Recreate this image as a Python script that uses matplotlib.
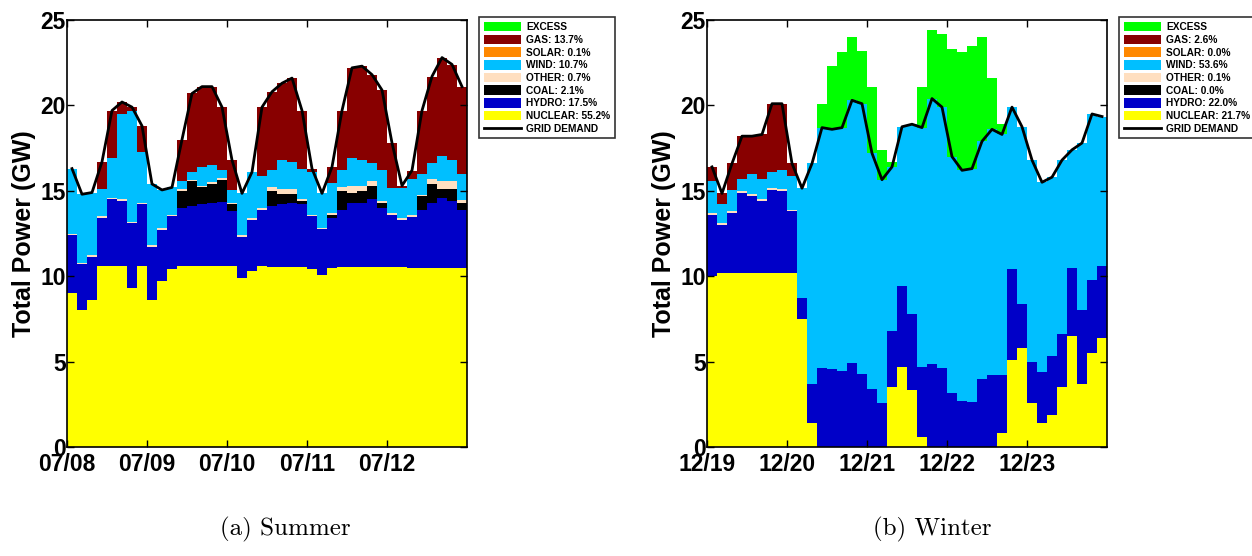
import numpy as np
import matplotlib
matplotlib.use('Agg')
import matplotlib.pyplot as plt
from matplotlib.patches import Patch
from matplotlib.lines import Line2D

plt.rcParams['font.family'] = ['Liberation Sans', 'DejaVu Sans']

# 3-hour bins, 5 days per panel (GW)
hours = np.arange(40) * 3

# Summer 07/08 - 07/12
s_nuclear = [9.0, 8.0, 8.6, 10.6, 10.6, 10.6, 9.3, 10.6, 8.6, 9.7,
             10.4, 10.6, 10.6, 10.6, 10.6, 10.6, 10.6, 9.9, 10.3, 10.6,
             10.55, 10.55, 10.55, 10.55, 10.4, 10.1, 10.5, 10.55, 10.55, 10.55,
             10.55, 10.55, 10.55, 10.55, 10.48, 10.48, 10.48, 10.48, 10.48, 10.48]
s_hydro = [3.4, 2.7, 2.55, 2.8, 3.9, 3.8, 3.8, 3.6, 3.1, 3.0,
           3.1, 3.4, 3.5, 3.6, 3.7, 3.75, 3.2, 2.4, 3.0, 3.3,
           3.55, 3.65, 3.75, 3.65, 3.1, 2.65, 2.9, 3.35, 3.75, 3.75,
           3.95, 3.45, 3.05, 2.75, 3.0, 3.4, 3.8, 4.1, 3.9, 3.4]
s_coal = [0, 0, 0, 0, 0, 0, 0, 0, 0, 0,
          0, 1.0, 1.45, 1.0, 1.1, 1.3, 0.4, 0, 0, 0,
          0.9, 0.6, 0.5, 0.2, 0, 0, 0.2, 1.1, 0.6, 0.7,
          0.8, 0.3, 0, 0, 0, 0.8, 1.1, 0.5, 0.7, 0.4]
s_other = [0.1, 0.1, 0.1, 0.1, 0.1, 0.1, 0.1, 0.1, 0.1, 0.1,
           0.1, 0.1, 0.1, 0.1, 0.1, 0.1, 0.1, 0.1, 0.1, 0.1,
           0.2, 0.3, 0.3, 0.1, 0.1, 0.1, 0.1, 0.2, 0.4, 0.3,
           0.3, 0.1, 0.1, 0.1, 0.1, 0.1, 0.3, 0.5, 0.5, 0.2]
s_wind = [3.8, 4.0, 3.65, 1.6, 2.3, 5.0, 6.5, 3.0, 3.6, 2.25,
          1.6, 0.5, 0.45, 1.1, 1.0, 0.45, 0.75, 2.45, 2.7, 1.85,
          1.0, 1.7, 1.6, 1.8, 2.5, 2.0, 1.75, 1.0, 1.65, 1.5,
          1.0, 1.8, 1.45, 1.75, 2.1, 1.2, 0.95, 1.45, 1.2, 1.5]
s_solar = [0] * 40
s_gas = [0, 0, 0, 1.6, 2.8, 0.7, 0.2, 1.5, 0, 0,
         0, 2.4, 4.6, 4.7, 4.6, 3.7, 1.75, 0, 0, 4.05,
         4.6, 4.5, 4.9, 3.4, 0.2, 0, 0.95, 3.5, 5.25, 5.5,
         5.2, 4.7, 2.65, 0.15, 0.5, 3.7, 5.05, 5.75, 5.6, 5.1]
s_excess = [0] * 40
s_demand = [16.3, 14.8, 14.9, 16.7, 19.7, 20.2, 19.9, 18.8, 15.4, 15.05,
            15.2, 18.0, 20.7, 21.1, 21.1, 19.9, 16.8, 14.85, 16.1, 19.9,
            20.8, 21.3, 21.6, 19.7, 16.3, 14.85, 16.4, 19.7, 22.2, 22.3,
            21.8, 20.9, 17.8, 15.3, 16.2, 19.7, 21.7, 22.8, 22.4, 21.1]

# Winter 12/19 - 12/23
w_nuclear = [10.0, 10.2, 10.2, 10.2, 10.2, 10.2, 10.2, 10.2, 10.2, 7.5,
             1.4, 0, 0, 0, 0, 0, 0, 0, 3.5, 4.7,
             3.35, 0.6, 0, 0, 0, 0, 0, 0, 0, 0.8,
             5.1, 5.8, 2.6, 1.4, 1.9, 3.5, 6.5, 3.7, 5.5, 6.4]
w_hydro = [3.6, 2.8, 3.5, 4.7, 4.5, 4.2, 4.85, 4.8, 3.6, 1.2,
           2.3, 4.6, 4.55, 4.45, 4.9, 4.3, 3.4, 2.6, 3.3, 4.7,
           4.45, 4.1, 4.85, 4.6, 3.15, 2.7, 2.65, 4.0, 4.2, 3.4,
           5.3, 2.6, 2.4, 3.0, 3.4, 3.1, 4.0, 4.3, 4.25, 4.2]
w_coal = [0] * 40
w_other = [0.1, 0.1, 0.1, 0.1, 0.1, 0.1, 0.1, 0.1, 0.1, 0,
           0, 0, 0, 0, 0, 0, 0, 0, 0, 0,
           0, 0, 0, 0, 0, 0, 0, 0, 0, 0,
           0, 0, 0, 0, 0, 0, 0, 0, 0, 0]
w_wind = [1.9, 1.1, 1.25, 0.7, 1.2, 1.2, 0.95, 1.1, 1.95, 6.45,
          12.9, 14.1, 14.05, 14.25, 15.4, 15.8, 13.8, 13.05, 9.6, 9.35,
          11.1, 14.0, 15.55, 15.3, 13.85, 13.5, 13.65, 13.9, 14.4, 14.1,
          9.5, 10.35, 11.8, 11.1, 10.5, 10.2, 6.9, 9.8, 9.75, 8.75]
w_solar = [0] * 40
w_gas = [0.8, 0.65, 1.55, 2.5, 2.2, 2.6, 4.0, 3.9, 0.75, 0,
         0, 0, 0, 0, 0, 0, 0, 0, 0, 0,
         0, 0, 0, 0, 0, 0, 0, 0, 0, 0,
         0, 0, 0, 0, 0, 0, 0, 0, 0, 0]
w_excess = [0, 0, 0, 0, 0, 0, 0, 0, 0, 0,
            0, 1.4, 3.7, 4.4, 3.7, 3.1, 3.9, 1.75, 0.3, 0,
            0, 2.4, 4.0, 4.3, 6.3, 6.95, 7.2, 6.1, 3.0, 0.6,
            0, 0, 0, 0, 0, 0, 0, 0, 0, 0]
w_demand = [16.4, 14.85, 16.6, 18.2, 18.2, 18.3, 20.1, 20.1, 16.6, 15.15,
            16.6, 18.7, 18.6, 18.7, 20.3, 20.1, 17.2, 15.65, 16.4, 18.75,
            18.9, 18.7, 20.4, 19.9, 17.0, 16.2, 16.3, 17.9, 18.6, 18.3,
            19.9, 18.75, 16.8, 15.5, 15.8, 16.8, 17.4, 17.8, 19.5, 19.35]

series_names = ['NUCLEAR', 'HYDRO', 'COAL', 'OTHER', 'WIND', 'SOLAR', 'GAS', 'EXCESS']
colors = {'NUCLEAR': '#ffff00', 'HYDRO': '#0000c8', 'COAL': '#000000',
          'OTHER': '#ffdfc0', 'WIND': '#00bfff', 'SOLAR': '#ff8800',
          'GAS': '#880000', 'EXCESS': '#00ff00'}

s_share = {'GAS': '13.7%', 'SOLAR': '0.1%', 'WIND': '10.7%', 'OTHER': '0.7%',
           'COAL': '2.1%', 'HYDRO': '17.5%', 'NUCLEAR': '55.2%'}
w_share = {'GAS': '2.6%', 'SOLAR': '0.0%', 'WIND': '53.6%', 'OTHER': '0.1%',
           'COAL': '0.0%', 'HYDRO': '22.0%', 'NUCLEAR': '21.7%'}

s_ticks = ['07/08', '07/09', '07/10', '07/11', '07/12']
w_ticks = ['12/19', '12/20', '12/21', '12/22', '12/23']

fig = plt.figure(figsize=(12.52, 5.56), dpi=100)


def draw_panel(left, data, demand, share, ticks, caption, cap_x):
    ax = fig.add_axes([left, 0.196, 0.3195, 0.768])
    bottom = np.zeros(len(hours))
    for name in series_names:
        vals = np.array(data[name], dtype=float)
        ax.bar(hours, vals, width=3, bottom=bottom, align='edge',
               color=colors[name], linewidth=0)
        bottom += vals
    ax.plot(hours + 1.5, demand, color='black', lw=2)

    ax.set_xlim(0, 120)
    ax.set_ylim(0, 25)
    ax.set_xticks([0, 24, 48, 72, 96])
    ax.set_xticklabels(ticks)
    ax.set_yticks([0, 5, 10, 15, 20, 25])
    ax.tick_params(direction='in', top=True, right=True, length=5, width=1,
                   labelsize=16.5, pad=1)
    ax.tick_params(axis='x', pad=4)
    for lab in ax.get_xticklabels() + ax.get_yticklabels():
        lab.set_fontweight('bold')
    for sp in ax.spines.values():
        sp.set_linewidth(1.2)
    ax.set_ylabel('Total Power (GW)', fontsize=18, fontweight='bold', labelpad=3)

    handles = [Patch(facecolor=colors['EXCESS'], edgecolor='none', label='EXCESS')]
    for name in ['GAS', 'SOLAR', 'WIND', 'OTHER', 'COAL', 'HYDRO', 'NUCLEAR']:
        handles.append(Patch(facecolor=colors[name], edgecolor='none',
                             label=f'{name}: {share[name]}'))
    handles.append(Line2D([], [], color='black', lw=2, label='GRID DEMAND'))
    leg = ax.legend(handles=handles, loc='upper left', bbox_to_anchor=(1.03, 1.006),
                    prop={'weight': 'bold', 'size': 7.3}, frameon=True, fancybox=False,
                    edgecolor='black', handlelength=3.7, handleheight=1.05,
                    labelspacing=0.25, handletextpad=0.5, borderpad=0.45,
                    borderaxespad=0)
    leg.get_frame().set_linewidth(1.2)

    fig.text(cap_x, 0.047, caption, ha='center', va='center',
             family='cmr10', fontsize=18)
    return ax


summer = {'NUCLEAR': s_nuclear, 'HYDRO': s_hydro, 'COAL': s_coal, 'OTHER': s_other,
          'WIND': s_wind, 'SOLAR': s_solar, 'GAS': s_gas, 'EXCESS': s_excess}
winter = {'NUCLEAR': w_nuclear, 'HYDRO': w_hydro, 'COAL': w_coal, 'OTHER': w_other,
          'WIND': w_wind, 'SOLAR': w_solar, 'GAS': w_gas, 'EXCESS': w_excess}

draw_panel(67 / 1252, summer, s_demand, s_share, s_ticks, '(a) Summer', 285 / 1252)
draw_panel(707 / 1252, winter, w_demand, w_share, w_ticks, '(b) Winter', 932 / 1252)

fig.savefig('out.png', dpi=100)
